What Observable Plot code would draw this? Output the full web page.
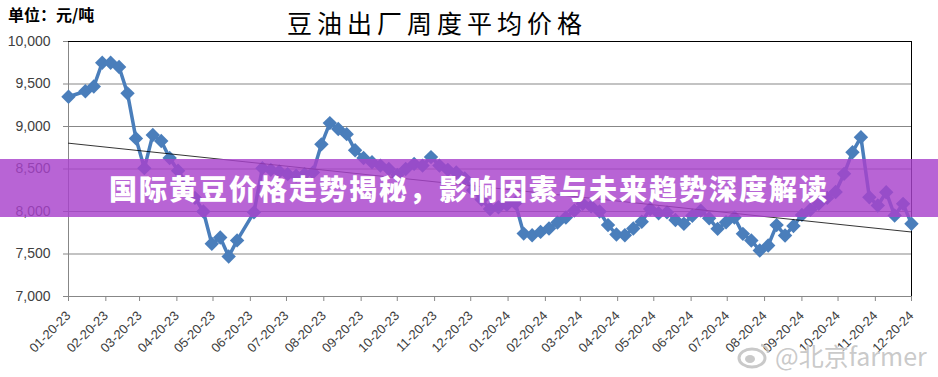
<!DOCTYPE html>
<html><head><meta charset="utf-8">
<script src="https://cdn.jsdelivr.net/npm/d3@7"></script>
<script src="https://cdn.jsdelivr.net/npm/@observablehq/plot@0.6"></script>
<style>
body{margin:0;background:#fff;}
#wrap{position:relative;width:938px;height:377px;overflow:hidden;}
#unit{position:absolute;left:8px;top:6px;font:bold 16px/16px "Noto Sans CJK SC",sans-serif;color:#000;}
#title{position:absolute;left:287px;top:10px;font:25px/25px "Noto Sans CJK SC",sans-serif;letter-spacing:5px;color:#000;white-space:nowrap;}
#banner{position:absolute;left:0;top:159px;width:938px;height:58px;background:rgba(168,66,204,0.82);display:flex;align-items:center;justify-content:center;color:#fff;font:900 28px/30px "Noto Sans CJK SC",sans-serif;letter-spacing:2px;}
#wm{position:absolute;left:737px;top:341px;display:flex;align-items:center;gap:4px;color:rgba(195,195,195,0.9);font:25px/28px "Noto Sans CJK SC",sans-serif;text-shadow:0 0 2px #fff,0 0 2px #fff;white-space:nowrap;}
</style>
</head><body>
<div id="wrap">
  <div id="chart"></div>
  <div id="unit">单位：元/吨</div>
  <div id="title">豆油出厂周度平均价格</div>
  <div id="banner">国际黄豆价格走势揭秘，影响因素与未来趋势深度解读</div>
  <div id="wm"><svg width="34" height="28" viewBox="0 0 34 28"><ellipse cx="15" cy="17" rx="13" ry="9" fill="none" stroke="rgba(195,195,195,0.9)" stroke-width="3"/><ellipse cx="13" cy="18" rx="5" ry="4" fill="rgba(195,195,195,0.9)"/><path d="M24 4 A8 8 0 0 1 31 12" fill="none" stroke="rgba(195,195,195,0.9)" stroke-width="2.5"/></svg><span>@北京farmer</span></div>
</div>
<script>
const dates = [
"2023-01-20","2023-02-03","2023-02-10","2023-02-17","2023-02-24","2023-03-03","2023-03-10","2023-03-17","2023-03-24","2023-03-31",
"2023-04-07","2023-04-14","2023-04-21","2023-04-28","2023-05-05","2023-05-12","2023-05-19","2023-05-26","2023-06-02","2023-06-09",
"2023-06-23","2023-06-30","2023-07-07","2023-07-14","2023-07-21","2023-07-28","2023-08-04","2023-08-11","2023-08-18","2023-08-25",
"2023-09-01","2023-09-08","2023-09-15","2023-09-22","2023-09-29","2023-10-06","2023-10-13","2023-10-20","2023-10-27","2023-11-03",
"2023-11-10","2023-11-17","2023-11-24","2023-12-01","2023-12-08","2023-12-15","2023-12-22","2023-12-29","2024-01-05","2024-01-12",
"2024-01-19","2024-01-26","2024-02-02","2024-02-09","2024-02-16","2024-02-23","2024-03-01","2024-03-08","2024-03-15","2024-03-22",
"2024-03-29","2024-04-05","2024-04-12","2024-04-19","2024-04-26","2024-05-03","2024-05-10","2024-05-17","2024-05-24","2024-05-31",
"2024-06-07","2024-06-14","2024-06-21","2024-06-28","2024-07-05","2024-07-12","2024-07-19","2024-07-26","2024-08-02","2024-08-09",
"2024-08-16","2024-08-23","2024-08-30","2024-09-06","2024-09-13","2024-09-20","2024-09-27","2024-10-04","2024-10-11","2024-10-18",
"2024-10-25","2024-11-01","2024-11-08","2024-11-15","2024-11-22","2024-11-29","2024-12-06","2024-12-13","2024-12-20"
];
const prices = [
9350,9415,9470,9750,9750,9700,9390,8860,8510,8900,
8830,8630,8480,8330,8160,8000,7620,7695,7470,7660,
7990,8510,8490,8470,8440,8420,8440,8460,8790,9040,
8970,8910,8720,8630,8580,8540,8500,8430,8500,8560,
8540,8640,8540,8490,8460,8390,8250,8140,8030,8050,
8080,8100,7740,7720,7760,7800,7870,7930,8010,8090,
8060,8000,7840,7730,7720,7800,7880,8030,7980,7990,
7900,7855,7950,8010,7920,7796,7874,7930,7737,7659,
7541,7600,7840,7718,7830,7960,8020,8090,8160,8230,
8443,8698,8874,8168,8070,8227,7953,8090,7855
];
const yTicks = [7000,7500,8000,8500,9000,9500,10000];
const tickLabels = ["01-20-23","02-20-23","03-20-23","04-20-23","05-20-23","06-20-23","07-20-23","08-20-23","09-20-23","10-20-23","11-20-23","12-20-23",
"01-20-24","02-20-24","03-20-24","04-20-24","05-20-24","06-20-24","07-20-24","08-20-24","09-20-24","10-20-24","11-20-24","12-20-24"];

const parse = d3.utcParse("%Y-%m-%d");
const parseTick = d3.utcParse("%m-%d-%y");
const data = dates.map((d, i) => ({date: parse(d), price: prices[i]}));
const tickDates = tickLabels.map(parseTick);

// linear trend (least squares on date)
const xs = data.map(d => +d.date), ys = data.map(d => d.price);
const mx = d3.mean(xs), my = d3.mean(ys);
const slope = d3.sum(xs, (x, i) => (x - mx) * (ys[i] - my)) / d3.sum(xs, x => (x - mx) ** 2);
const trend = [tickDates[0], tickDates[tickDates.length - 1]].map(d => ({date: d, price: my + slope * (+d - mx)}));

const blue = "#4a7ebb";
const grid = "#878787";
const chart = Plot.plot({
  width: 938, height: 377,
  marginLeft: 68, marginRight: 27, marginTop: 41, marginBottom: 81,
  style: {fontFamily: "'Liberation Sans', Arial, sans-serif", fontSize: "13px", color: "#404040", background: "transparent"},
  x: {type: "utc", domain: [tickDates[0], tickDates[tickDates.length - 1]]},
  y: {domain: [7000, 10000]},
  marks: [
    Plot.gridY(yTicks, {stroke: grid, strokeOpacity: 1}),
    Plot.ruleX([tickDates[0]], {stroke: grid}),
    Plot.ruleY([7000], {stroke: grid}),
    Plot.ruleY([10000], {stroke: "#000"}),
    Plot.ruleX([tickDates[tickDates.length - 1]], {stroke: "#000"}),
    Plot.axisY(yTicks, {tickFormat: d3.format(","), tickSize: 5, tickPadding: 13, fontSize: 14, stroke: grid, label: null}),
    Plot.axisX(tickDates, {tickFormat: d3.utcFormat("%m-%d-%y"), tickRotate: -45, tickSize: 5, tickPadding: 12, stroke: grid, label: null, fontSize: 13}),
    Plot.line(data, {x: "date", y: "price", stroke: blue, strokeWidth: 3.5}),
    Plot.dot(data, {x: "date", y: "price", symbol: "diamond2", r: 6.5, fill: blue}),
    Plot.line(trend, {x: "date", y: "price", stroke: "#000", strokeWidth: 0.8})
  ]
});
document.getElementById("chart").appendChild(chart);
</script>
</body></html>
